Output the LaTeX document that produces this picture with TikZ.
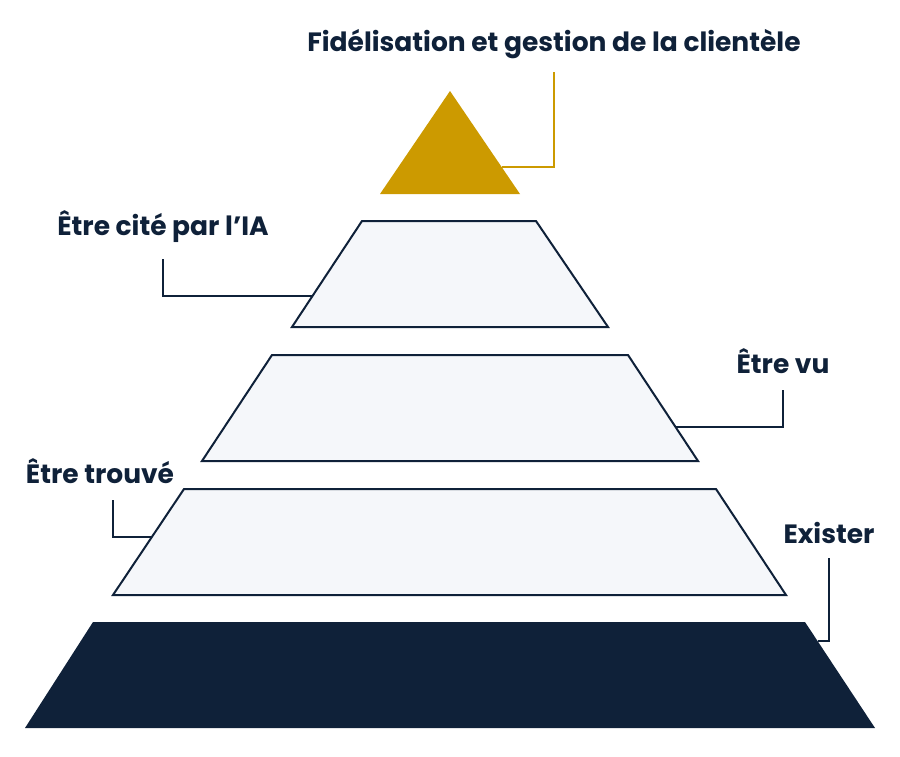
\documentclass[tikz,border=0pt]{standalone}
\usepackage{fontspec}
\setmainfont{Poppins}
\usetikzlibrary{calc}
\definecolor{navy}{HTML}{0F2139}
\definecolor{gold}{HTML}{CC9A00}
\definecolor{paper}{HTML}{F5F7FA}

\begin{document}
\begin{tikzpicture}[x=1pt, y=-1pt,
    tier/.style={draw=navy, fill=paper, line width=2pt},
    tierlabel/.style={font=\fontsize{26.5}{30}\selectfont\bfseries, text=navy, inner sep=0pt, anchor=base},
    lead/.style={draw=navy, line width=2pt}]

    \useasboundingbox (0,0) rectangle (900,756);

    % pyramid
    \fill[gold] (450,91) coordinate (top) -- (520,194) coordinate (topR) -- (380,194) -- cycle;
    \path[tier] (362,221) coordinate (t1L) -- (536,221) -- (608,327) -- (292,327) coordinate (t1B) -- cycle;
    \path[tier] (272,355) -- (628,355) coordinate (t2R) -- (698,461) coordinate (t2B) -- (202,461) -- cycle;
    \path[tier] (184,489) coordinate (t3L) -- (716,489) -- (786,595) -- (113,595) coordinate (t3B) -- cycle;
    \fill[navy] (93,622) -- (805,622) coordinate (t4R) -- (875,728) coordinate (t4B) -- (25,728) -- cycle;

    % labels
    \node[tierlabel] (fidel) at (554,51) {Fidélisation et gestion de la clientèle};
    \node[tierlabel] (cite) at (163,235) {Être cité par l’IA};
    \node[tierlabel] (vu) at (783,373) {Être vu};
    \node[tierlabel] (trouve) at (100,483) {Être trouvé};
    \node[tierlabel] (exister) at (829,543) {Exister};

    % leaders
    \draw[lead, draw=gold] ([yshift=-14pt]fidel.south) |- ($(top)!.738!(topR)$);
    \draw[lead] ([yshift=-17pt]cite.south) |- ($(t1L)!.708!(t1B)$);
    \draw[lead] ([yshift=-17pt]vu.south) |- ($(t2R)!.679!(t2B)$);
    \draw[lead] ([xshift=13pt,yshift=-17pt]trouve.south) |- ($(t3L)!.453!(t3B)$);
    \draw[lead] ([yshift=-15pt]exister.south) |- ($(t4R)!.179!(t4B)$);
\end{tikzpicture}
\end{document}
